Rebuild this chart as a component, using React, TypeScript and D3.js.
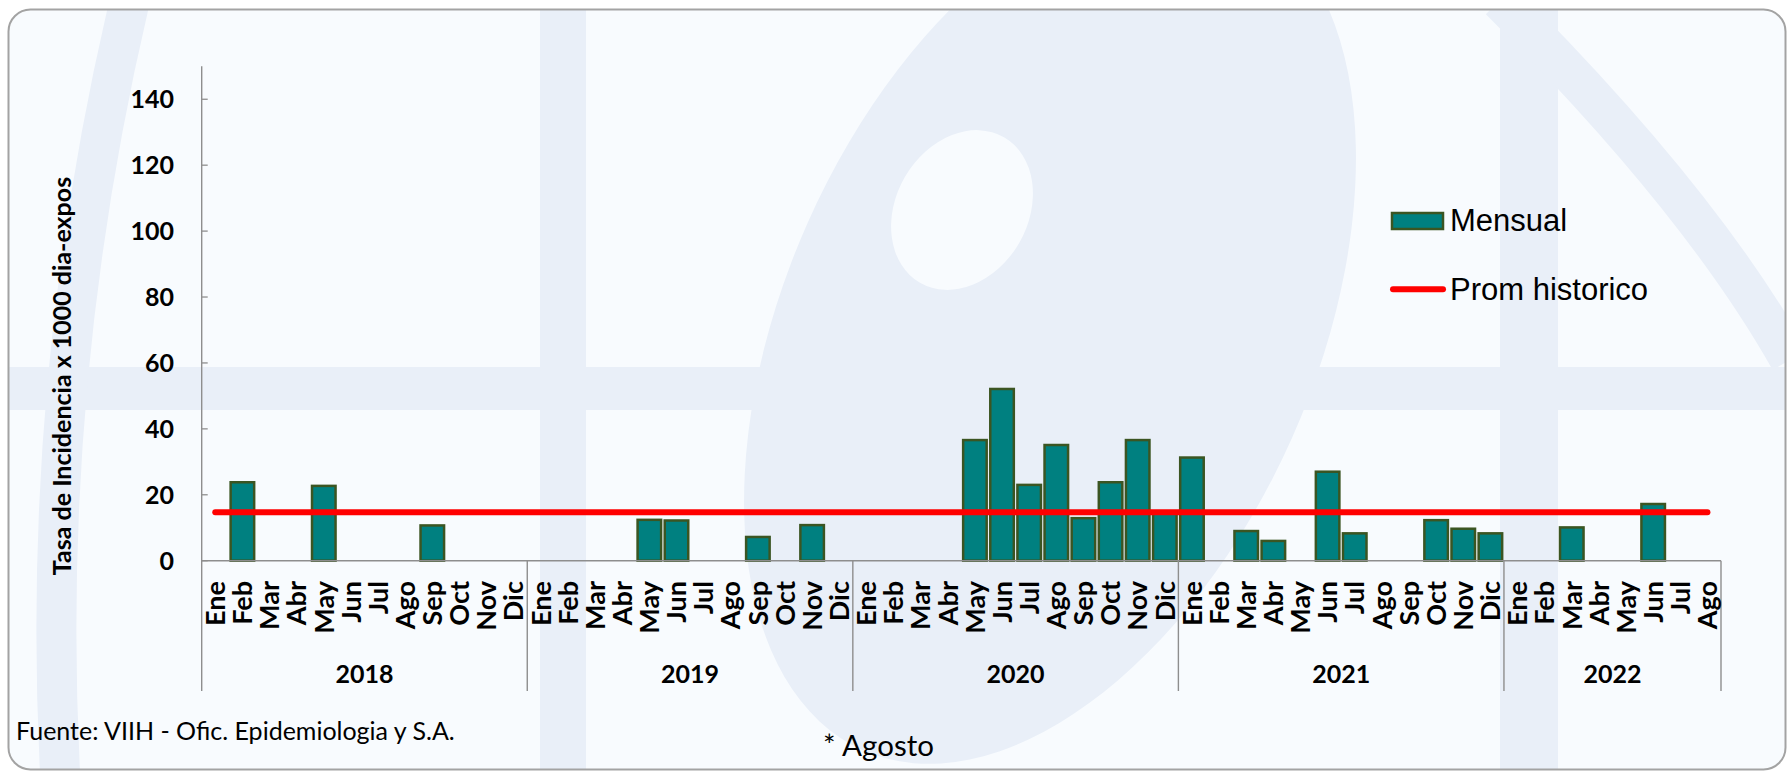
import React from 'react';
import * as d3 from 'd3';

const years = ['2018', '2019', '2020', '2021', '2022'];
const monthNames = ['Ene', 'Feb', 'Mar', 'Abr', 'May', 'Jun', 'Jul', 'Ago', 'Sep', 'Oct', 'Nov', 'Dic'];
const values2018 = [0, 23.8, 0, 0, 22.7, 0, 0, 0, 10.7, 0, 0, 0];
const values2019 = [0, 0, 0, 0, 12.4, 12.2, 0, 0, 7.2, 0, 10.8, 0];
const values2020 = [0, 0, 0, 0, 36.6, 52.1, 23.0, 35.1, 12.9, 23.8, 36.6, 15.0];
const values2021 = [31.3, 0, 9.0, 6.0, 0, 27.0, 8.3, 0, 0, 12.3, 9.7, 8.3];
const values2022 = [0, 0, 10.1, 0, 0, 17.2, 0, 0];
const promHistorico = 14.7;
const yTicks = [0, 20, 40, 60, 80, 100, 120, 140];
const seriesByYear = [values2018, values2019, values2020, values2021, values2022];

type Cat = { key: string; year: string; month: string; value: number };
const cats: Cat[] = [];
seriesByYear.forEach((vals, yi) => {
  vals.forEach((v, mi) => {
    cats.push({ key: `${years[yi]}-${mi}`, year: years[yi], month: monthNames[mi], value: v });
  });
});

const W = 1787;
const H = 772;
const X0 = 201.7;
const X1 = 1721;
const Y0 = 560.7;
const YTOP = 66.3;
const AXIS_BOTTOM = 691;

const TEAL = '#008080';
const OLIVE = '#3b5522';
const AXIS = '#8e8e8e';
const WM = '#e9eff8';
const BG = '#f8fbfe';

export default function App() {
  const x = d3.scaleBand<string>().domain(cats.map((c) => c.key)).range([X0, X1]).paddingInner(0).paddingOuter(0);
  const y = d3.scaleLinear().domain([0, 150]).range([Y0, YTOP]);
  const step = x.step();
  const barW = step - 3.6;

  const yearBounds = years.map((yr) => {
    const ks = cats.filter((c) => c.year === yr);
    const start = x(ks[0].key) as number;
    const end = (x(ks[ks.length - 1].key) as number) + step;
    return { yr, start, end };
  });

  const lineGen = d3.line<Cat>().x((d) => (x(d.key) as number) + step / 2).y(() => y(promHistorico));
  const firstLast = [cats[0], cats[cats.length - 1]];

  const boldFont = 'Lato, "DejaVu Sans", sans-serif';

  return (
    <svg width={W} height={H} style={{ position: 'absolute', left: 0, top: 0 }} xmlns="http://www.w3.org/2000/svg">
      <defs>
        <clipPath id="frame">
          <rect x={8.5} y={9.5} width={1777} height={760} rx={22} ry={22} />
        </clipPath>
      </defs>
      <rect x={0} y={0} width={W} height={H} fill="#ffffff" />
      <g clipPath="url(#frame)">
        <rect x={0} y={0} width={W} height={H} fill={BG} />
        {/* watermark */}
        <g fill={WM} stroke="none">
          <ellipse cx={1050} cy={330} rx={265} ry={460} transform="rotate(24 1050 330)" />
          <rect x={0} y={367} width={W} height={43} />
          <rect x={540} y={0} width={46} height={H} />
          <rect x={1500} y={0} width={58} height={H} />
        </g>
        <g fill="none" stroke={WM} strokeWidth={40}>
          <path d="M130,0 Q40,380 60,772" />
          <path d="M1500,0 Q1700,200 1790,360" />
        </g>
        <ellipse cx={962} cy={210} rx={84} ry={66} transform="rotate(-60 962 210)" fill={BG} />
      </g>
      <rect x={8.5} y={9.5} width={1777} height={760} rx={22} ry={22} fill="none" stroke="#a3a3a3" strokeWidth={2} />

      {/* y axis title */}
      <text
        transform="translate(62,376) rotate(-90)"
        textAnchor="middle"
        dy="0.35em"
        fontFamily={boldFont}
        fontWeight={700}
        fontSize={25}
        fill="#000"
      >
        Tasa de Incidencia x 1000 dia-expos
      </text>

      {/* y ticks */}
      {yTicks.map((t) => (
        <g key={t}>
          <line x1={X0} x2={X0 + 6} y1={y(t)} y2={y(t)} stroke={AXIS} strokeWidth={1.3} />
          <text x={174} y={y(t)} dy="0.36em" textAnchor="end" fontFamily={boldFont} fontWeight={700} fontSize={25} fill="#000">
            {t}
          </text>
        </g>
      ))}

      {/* bars */}
      {cats
        .filter((c) => c.value > 0)
        .map((c) => (
          <rect
            key={c.key}
            x={(x(c.key) as number) + (step - barW) / 2}
            y={y(c.value)}
            width={barW}
            height={y(0) - y(c.value)}
            fill={TEAL}
            stroke={OLIVE}
            strokeWidth={2.5}
          />
        ))}

      {/* axes */}
      <line x1={X0} x2={X0} y1={YTOP} y2={AXIS_BOTTOM} stroke={AXIS} strokeWidth={1.4} />
      <line x1={X0} x2={X1} y1={Y0} y2={Y0} stroke={AXIS} strokeWidth={1.4} />
      {yearBounds.map((b) => (
        <line key={'sep' + b.yr} x1={b.end} x2={b.end} y1={Y0} y2={AXIS_BOTTOM} stroke={AXIS} strokeWidth={1.4} />
      ))}

      {/* prom historico line */}
      <path d={lineGen(firstLast) as string} stroke="#ff0000" strokeWidth={6} strokeLinecap="round" fill="none" />

      {/* month labels */}
      {cats.map((c) => (
        <text
          key={'m' + c.key}
          transform={`translate(${(x(c.key) as number) + step / 2},581) rotate(-90)`}
          textAnchor="end"
          dy="0.36em"
          fontFamily={boldFont}
          fontWeight={700}
          fontSize={27}
          fill="#000"
        >
          {c.month}
        </text>
      ))}

      {/* year labels */}
      {yearBounds.map((b) => (
        <text
          key={'y' + b.yr}
          x={(b.start + b.end) / 2}
          y={683}
          textAnchor="middle"
          fontFamily={boldFont}
          fontWeight={700}
          fontSize={25}
          fill="#000"
        >
          {b.yr}
        </text>
      ))}

      {/* legend */}
      <rect x={1392} y={213} width={51} height={16} fill={TEAL} stroke={OLIVE} strokeWidth={2.5} />
      <text x={1450} y={231} fontFamily='"Liberation Sans", Arial, sans-serif' fontSize={31} fill="#000">
        Mensual
      </text>
      <line x1={1393} x2={1443} y1={289.3} y2={289.3} stroke="#ff0000" strokeWidth={6} strokeLinecap="round" />
      <text x={1450} y={299.5} fontFamily='"Liberation Sans", Arial, sans-serif' fontSize={31} fill="#000">
        Prom historico
      </text>

      {/* footnotes */}
      <text x={16} y={740} fontFamily='Lato, "Open Sans", sans-serif' fontSize={25} fill="#000">
        Fuente: VIIH - Ofic. Epidemiologia y S.A.
      </text>
      <text x={823} y={756} fontFamily='Lato, "Open Sans", sans-serif' fontSize={29.5} fill="#000">
        * Agosto
      </text>
    </svg>
  );
}
